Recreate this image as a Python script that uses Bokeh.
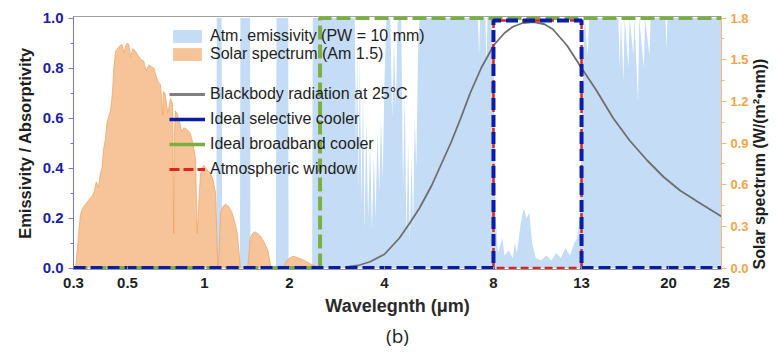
import math
import numpy as np
from bokeh.plotting import figure
from bokeh.models import (Range1d, LinearAxis, FixedTicker, Legend, LegendItem, Title,
                          PrintfTickFormatter)
from bokeh.embed import file_html
from bokeh.resources import INLINE

# ------------------------------------------------------------------ data
X_TICKS = [0.3, 0.5, 1, 2, 4, 8, 13, 20, 25]
X_TICK_LABELS = ["0.3", "0.5", "1", "2", "4", "8", "13", "20", "25"]
EMIS_TICKS = [0.0, 0.2, 0.4, 0.6, 0.8, 1.0]
EMIS_MINOR = [0.1, 0.3, 0.5, 0.7, 0.9]
SOLAR_TICKS = [0.0, 0.3, 0.6, 0.9, 1.2, 1.5, 1.8]
SOLAR_MINOR = [0.15, 0.45, 0.75, 1.05, 1.35, 1.65]

# AM1.5 solar spectrum, W/(m^2 nm)
SOLAR_WL = [0.300, 0.306, 0.315, 0.320, 0.325, 0.333, 0.340, 0.350, 0.356, 0.365,
            0.372, 0.380, 0.387, 0.393, 0.399, 0.405, 0.412, 0.420, 0.426, 0.433,
            0.440, 0.447, 0.455, 0.465, 0.475, 0.485, 0.492, 0.500, 0.506, 0.515,
            0.525, 0.537, 0.550, 0.565, 0.579, 0.590, 0.605, 0.620, 0.634, 0.650,
            0.660, 0.673, 0.687, 0.690, 0.700, 0.718, 0.725, 0.736, 0.750, 0.758,
            0.762, 0.770, 0.782, 0.800, 0.815, 0.830, 0.850, 0.880, 0.900, 0.922,
            0.930, 0.936, 0.945, 0.955, 0.965, 0.980, 0.990, 1.020, 1.050, 1.070,
            1.094, 1.105, 1.115, 1.125, 1.140, 1.160, 1.187, 1.220, 1.250, 1.280,
            1.306, 1.325, 1.340, 1.420, 1.435, 1.450, 1.480, 1.510, 1.560, 1.600,
            1.624, 1.680, 1.720, 1.900, 1.940, 1.980, 2.030, 2.060, 2.120, 2.200,
            2.270, 2.380, 2.470, 2.500]
SOLAR_VAL = [0.00, 0.00, 0.25, 0.38, 0.42, 0.45, 0.47, 0.50, 0.51, 0.55,
             0.62, 0.58, 0.68, 0.72, 0.86, 0.92, 1.05, 1.10, 1.13, 1.25,
             1.45, 1.56, 1.58, 1.60, 1.61, 1.55, 1.60, 1.62, 1.61, 1.52,
             1.58, 1.56, 1.53, 1.50, 1.49, 1.42, 1.46, 1.45, 1.44, 1.37,
             1.34, 1.32, 1.10, 1.27, 1.26, 1.12, 1.15, 1.22, 1.18, 0.25,
             0.95, 1.13, 1.11, 1.05, 0.98, 1.01, 1.00, 0.97, 0.90, 0.79,
             0.50, 0.25, 0.40, 0.55, 0.68, 0.72, 0.74, 0.71, 0.68, 0.64,
             0.54, 0.25, 0.00, 0.10, 0.40, 0.44, 0.46, 0.44, 0.40, 0.33,
             0.25, 0.12, 0.00, 0.00, 0.08, 0.21, 0.25, 0.26, 0.24, 0.21,
             0.19, 0.12, 0.00, 0.00, 0.04, 0.065, 0.08, 0.085, 0.075, 0.06,
             0.043, 0.02, 0.01, 0.00]

# Atmospheric emissivity (PW = 10 mm)
ATM_WL = [0.30, 1.100, 1.105, 1.150, 1.155, 1.335, 1.340, 1.450, 1.455, 1.790,
          1.800, 1.980, 1.985, 2.360, 2.370, 3.22, 3.25, 3.28, 3.31, 3.34,
          3.38, 3.42, 3.46, 3.50, 3.55, 3.60, 3.65, 3.70, 3.75, 3.80,
          3.85, 3.90, 3.95, 4.00, 4.05, 4.15, 4.20, 4.25, 4.30, 4.35,
          4.45, 4.50, 4.55, 4.60, 4.65, 4.70, 4.75, 4.80, 4.85, 4.90,
          4.95, 5.00, 7.25, 7.30, 7.35, 7.60, 7.65, 7.70, 7.90, 7.95,
          8.00, 8.05, 8.10, 8.20, 8.40, 8.50, 8.70, 8.90, 9.00, 9.10,
          9.30, 9.45, 9.60, 9.75, 9.90, 10.1, 10.4, 10.7, 11.0, 11.3,
          11.6, 11.9, 12.2, 12.5, 12.7, 12.9, 13.0, 13.1, 13.2, 13.4,
          13.5, 15.6, 15.7, 15.8, 16.0, 16.1, 16.4, 16.5, 16.8, 16.9,
          17.2, 17.3, 17.7, 17.8, 18.2, 18.3, 19.7, 19.8, 19.9, 25.0]
ATM_EM = [0.00, 0.00, 1.00, 1.00, 0.00, 0.00, 1.00, 1.00, 0.00, 0.00,
          1.00, 1.00, 0.00, 0.00, 1.00, 1.00, 0.45, 0.90, 0.30, 0.85,
          0.25, 0.70, 0.15, 0.60, 0.20, 0.50, 0.15, 0.45, 0.20, 0.55,
          0.30, 0.60, 0.35, 0.75, 1.00, 1.00, 0.60, 0.90, 0.65, 1.00,
          1.00, 0.30, 0.70, 0.12, 0.50, 0.10, 0.45, 0.15, 0.60, 0.40,
          0.85, 1.00, 1.00, 0.85, 1.00, 1.00, 0.80, 1.00, 1.00, 0.85,
          1.00, 0.50, 0.20, 0.06, 0.12, 0.05, 0.07, 0.04, 0.10, 0.06,
          0.18, 0.24, 0.20, 0.22, 0.10, 0.04, 0.03, 0.05, 0.03, 0.06,
          0.04, 0.08, 0.05, 0.10, 0.12, 0.22, 0.50, 0.85, 1.00, 0.85,
          1.00, 1.00, 0.80, 1.00, 0.75, 1.00, 0.80, 1.00, 0.85, 1.00,
          0.66, 1.00, 0.80, 1.00, 0.85, 1.00, 1.00, 0.88, 1.00, 1.00]

# Blackbody radiation at 25 C (normalised)
BB_WL = [3.0, 3.3, 3.6, 4.0, 4.4, 4.7, 5.0, 5.4, 5.8, 6.1, 6.5, 6.9, 7.4, 7.8, 8.0,
         8.5, 8.9, 9.4, 10.0, 10.6, 11.1, 12.0, 13.0, 14.0, 15.2, 16.5, 18.0, 19.5,
         21.0, 23.0, 25.0]
BB_EM = [0.003, 0.01, 0.025, 0.055, 0.12, 0.18, 0.24, 0.33, 0.43, 0.50, 0.60, 0.70,
         0.80, 0.86, 0.89, 0.94, 0.965, 0.98, 0.984, 0.975, 0.955, 0.89, 0.80, 0.71,
         0.60, 0.51, 0.43, 0.365, 0.31, 0.255, 0.206]

BROAD_WL = [0.3, 2.5, 2.5, 25]
BROAD_EM = [0, 0, 1, 1]
SEL_WL = [0.3, 8, 8, 13, 13, 25]
SEL_EM = [0, 0, 0.99, 0.99, 0, 0]
WIN_WL = [8, 8, 13, 13, 8]
WIN_EM = [0, 0.99, 0.99, 0, 0]

LABELS = ["Atm. emissivity (PW = 10 mm)", "Solar spectrum (Am 1.5)",
          "Blackbody radiation at 25\u00b0C", "Ideal selective cooler",
          "Ideal broadband cooler", "Atmospheric window"]
RIGHT_TITLE = "Solar spectrum (W/(m\u00b2\u2022nm))"

# ------------------------------------------------------------------ axis layout
# fractional position of each tick along the non-uniform wavelength axis
X_TICK_FRAC = [0.0, 0.0833, 0.2022, 0.3333, 0.4799, 0.6481, 0.7840, 0.9182, 1.0]


def xmap(w):
    return np.interp(np.log(np.asarray(w, dtype=float)), np.log(X_TICKS), X_TICK_FRAC)


FONT = "Liberation Sans"
BLUE = "#0b1ca6"
GREEN = "#7caf42"
RED = "#e0241b"
GRAY = "#6e6e6e"
SKY = "#c4dcf6"
PEACH = "#f7c194"
ORANGE_TXT = "#f2a548"
AXIS_BLUE = "#1c1ca6"

p = figure(width=779, height=352, output_backend="svg", toolbar_location=None,
           x_range=Range1d(0, 1), y_range=Range1d(-0.006, 1.006),
           min_border_left=73, min_border_right=58, min_border_top=16, min_border_bottom=83)
p.extra_y_ranges = {"solar": Range1d(-0.006 * 1.8, 1.006 * 1.8)}
p.xgrid.visible = False
p.ygrid.visible = False
p.outline_line_color = "#a0a0a0"
p.background_fill_color = "white"

# glyphs
r_atm = p.varea(x=xmap(ATM_WL), y1=0, y2=ATM_EM, fill_color=SKY, fill_alpha=1.0)
r_sol = p.varea(x=xmap(SOLAR_WL), y1=0, y2=SOLAR_VAL, fill_color=PEACH, fill_alpha=0.95,
                y_range_name="solar")
p.line(x=xmap(SOLAR_WL), y=SOLAR_VAL, line_color="#eea060", line_width=0.7,
       y_range_name="solar")
p.line(x=xmap(BB_WL), y=BB_EM, line_color=GRAY, line_width=1.8)
p.line(x=xmap(BROAD_WL), y=BROAD_EM, line_color=GREEN, line_width=4, line_dash="14 5")
p.line(x=xmap(WIN_WL), y=WIN_EM, line_color=RED, line_width=2.5, line_dash="8 4")
p.line(x=xmap(SEL_WL), y=SEL_EM, line_color=BLUE, line_width=4, line_dash="12 5")

# legend proxies (solid strokes as in the original legend)
NAN2 = [np.nan, np.nan]
lg_bb = p.line(x=NAN2, y=NAN2, line_color="#808080", line_width=3)
lg_sel = p.line(x=NAN2, y=NAN2, line_color=BLUE, line_width=3.5)
lg_br = p.line(x=NAN2, y=NAN2, line_color=GREEN, line_width=3.5)
lg_win = p.line(x=NAN2, y=NAN2, line_color=RED, line_width=3, line_dash="10 4")

leg_common = dict(label_text_font=FONT, label_text_font_size="16px",
                  label_text_color="#1e1e1e", glyph_width=36, label_standoff=5,
                  padding=0, margin=0, border_line_color=None, background_fill_alpha=0)
leg1 = Legend(items=[LegendItem(label=LABELS[0], renderers=[r_atm]),
                     LegendItem(label=LABELS[1], renderers=[r_sol])],
              location=(96, 206), glyph_height=16, spacing=0, **leg_common)
leg2 = Legend(items=[LegendItem(label=LABELS[2], renderers=[lg_bb]),
                     LegendItem(label=LABELS[3], renderers=[lg_sel]),
                     LegendItem(label=LABELS[4], renderers=[lg_br]),
                     LegendItem(label=LABELS[5], renderers=[lg_win])],
              location=(96, 90), glyph_height=20, spacing=5, **leg_common)
p.add_layout(leg1)
p.add_layout(leg2)

# bottom axis
xa = p.xaxis[0]
xa.ticker = FixedTicker(ticks=X_TICK_FRAC)
xa.major_label_overrides = {f: l for f, l in zip(X_TICK_FRAC, X_TICK_LABELS)}
xa.axis_label = "Wavelegnth (\u03bcm)"
xa.axis_label_text_font = FONT
xa.axis_label_text_font_style = "bold"
xa.axis_label_text_font_size = "18px"
xa.axis_label_text_color = "#2a2a2a"
xa.axis_label_standoff = 5
xa.major_label_text_font = FONT
xa.major_label_text_font_style = "bold"
xa.major_label_text_font_size = "15px"
xa.major_label_text_color = "#1e1e1e"
xa.major_label_standoff = 8
xa.major_tick_in = 3
xa.major_tick_out = 0
xa.minor_tick_line_color = None
xa.axis_line_color = "#9a9a9a"
xa.major_tick_line_color = "#9a9a9a"

# left axis
ya = p.yaxis[0]
ya.ticker = FixedTicker(ticks=EMIS_TICKS, minor_ticks=EMIS_MINOR)
ya.formatter = PrintfTickFormatter(format="%.1f")
ya.axis_label = "Emissivity / Absorptivity"
ya.axis_label_text_font = FONT
ya.axis_label_text_font_style = "bold"
ya.axis_label_text_font_size = "16.5px"
ya.axis_label_text_color = "#1e1e1e"
ya.axis_label_standoff = 6
ya.major_label_text_font = FONT
ya.major_label_text_font_style = "bold"
ya.major_label_text_font_size = "15px"
ya.major_label_text_color = AXIS_BLUE
ya.major_label_standoff = 5
ya.major_tick_out = 5
ya.major_tick_in = 0
ya.minor_tick_out = 3
ya.minor_tick_in = 0
ya.axis_line_color = "#7878d0"
ya.major_tick_line_color = "#7878d0"
ya.minor_tick_line_color = "#7878d0"

# right axis
ra = LinearAxis(y_range_name="solar", ticker=FixedTicker(ticks=SOLAR_TICKS, minor_ticks=SOLAR_MINOR),
                formatter=PrintfTickFormatter(format="%.1f"))
ra.axis_label = RIGHT_TITLE
ra.axis_label_text_font = FONT
ra.axis_label_text_font_style = "bold"
ra.axis_label_text_font_size = "16px"
ra.axis_label_text_color = "#1e1e1e"
ra.axis_label_standoff = 8
props = ra.properties()
if "axis_label_orientation" in props:
    ra.axis_label_orientation = math.pi / 2   # read bottom-to-top as in the original
    if "axis_label_align" in props:
        ra.axis_label_align = "start"
ra.major_label_text_font = FONT
ra.major_label_text_font_style = "bold"
ra.major_label_text_font_size = "13px"
ra.major_label_text_color = ORANGE_TXT
ra.major_label_standoff = 4
ra.major_tick_out = 5
ra.major_tick_in = 0
ra.minor_tick_out = 3
ra.minor_tick_in = 0
ra.axis_line_color = "#f5b878"
ra.major_tick_line_color = "#f5b878"
ra.minor_tick_line_color = "#f5b878"
p.add_layout(ra, "right")

# caption
p.add_layout(Title(text="(b)", align="center", text_font="Open Sans", text_font_size="19px",
                   text_font_style="normal", text_color="#222222", standoff=4), "below")

open("out.html", "w").write(file_html(p, INLINE))
